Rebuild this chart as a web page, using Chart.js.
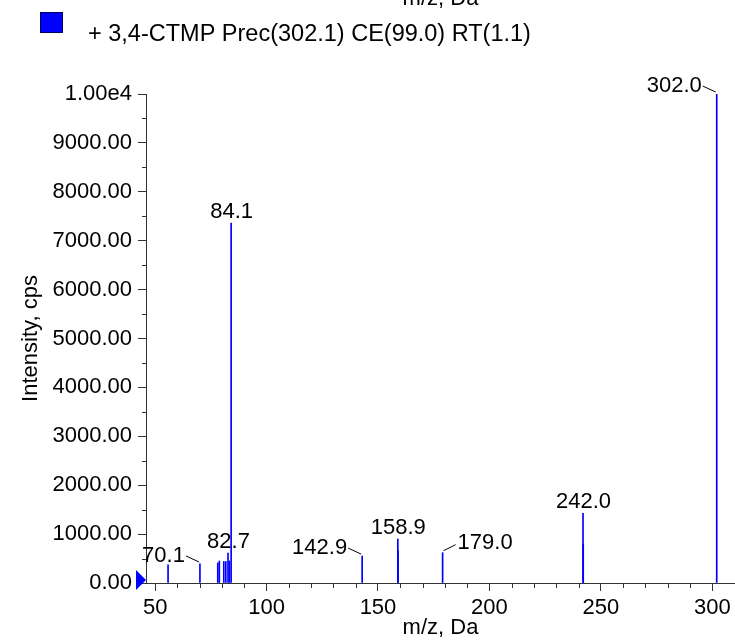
<!DOCTYPE html>
<html>
<head>
<meta charset="utf-8">
<script src="https://cdn.jsdelivr.net/npm/chart.js@4.4.1/dist/chart.umd.min.js"></script>
<style>
  html, body { margin: 0; padding: 0; background: #fff; }
</style>
</head>
<body>
<canvas id="myChart" width="735" height="641"></canvas>
<script>
var seriesName = '+ 3,4-CTMP Prec(302.1) CE(99.0) RT(1.1)';
var xAxisTitle = 'm/z, Da';
var yAxisTitle = 'Intensity, cps';

// peak list
var mzValues    = [55.8, 70.1, 78.1, 78.8, 80.8, 81.7, 82.7, 83.3, 84.1, 142.9, 158.9, 159.0, 179.0, 242.0, 242.1, 302.0];
var intensities = [370,  390,  410,  450,  440,  440,  610,  450,  7360, 550,   900,   660,   620,   1425,  790,   10000];

// peaks that carry a text label
var labelledPeaks = [70.1, 82.7, 84.1, 142.9, 158.9, 179.0, 242.0, 302.0];

var xMin = 45.9, xMax = 310.2;
var yMin = 0, yMax = 10000;

var axisColor = '#333';
var fontFamily = '"Liberation Sans", Arial, sans-serif';

Chart.defaults.font.family = fontFamily;
Chart.defaults.font.size = 22;
Chart.defaults.color = '#000';

// where each label sits relative to its peak (layout only)
var labelSide = { '70.1': 'left', '142.9': 'left', '302.0': 'left', '179.0': 'right' };

var decorations = {
    id: 'decorations',
    afterDraw: function(chart) {
        var ctx = chart.ctx;
        var xs = chart.scales.x;
        var ys = chart.scales.y;
        var area = chart.chartArea;
        ctx.save();

        // minor ticks
        ctx.strokeStyle = axisColor;
        ctx.lineWidth = 1;
        ctx.beginPath();
        for (var v = 50; v <= xs.max; v += 10) {
            if (v % 50 === 0) continue;
            var p = Math.round(xs.getPixelForValue(v)) + 0.5;
            ctx.moveTo(p, area.bottom);
            ctx.lineTo(p, area.bottom + 5);
        }
        for (var w = 500; w < ys.max; w += 1000) {
            var q = Math.round(ys.getPixelForValue(w)) + 0.5;
            ctx.moveTo(area.left - 4, q);
            ctx.lineTo(area.left, q);
        }
        ctx.stroke();

        // blue marker at zero
        ctx.fillStyle = '#0000ff';
        var y0 = ys.getPixelForValue(0) - 3;
        ctx.beginPath();
        ctx.moveTo(area.left - 10, y0 - 10);
        ctx.lineTo(area.left, y0);
        ctx.lineTo(area.left - 10, y0 + 10);
        ctx.closePath();
        ctx.fill();

        // peak labels
        ctx.fillStyle = '#000';
        ctx.strokeStyle = '#000';
        ctx.font = '22px ' + fontFamily;
        ctx.textBaseline = 'alphabetic';
        labelledPeaks.forEach(function(mz) {
            var i = mzValues.indexOf(mz);
            var px = xs.getPixelForValue(mz);
            var py = ys.getPixelForValue(intensities[i]);
            var txt = mz.toFixed(1);
            var side = labelSide[txt] || 'center';
            if (side === 'center') {
                ctx.textAlign = 'center';
                ctx.fillText(txt, px + 0.5, py - 5);
            } else if (side === 'left') {
                ctx.textAlign = 'right';
                ctx.fillText(txt, px - 15, py - 2);
                ctx.beginPath();
                ctx.moveTo(px - 14, py - 8);
                ctx.lineTo(px - 1, py - 2);
                ctx.stroke();
            } else {
                ctx.textAlign = 'left';
                ctx.fillText(txt, px + 15, py - 4);
                ctx.beginPath();
                ctx.moveTo(px + 1, py - 2);
                ctx.lineTo(px + 13, py - 8);
                ctx.stroke();
            }
        });

        // axis titles
        ctx.textAlign = 'center';
        var midX = (area.left + area.right) / 2;
        ctx.fillText(xAxisTitle, midX, 634);
        ctx.fillText(xAxisTitle, midX, 5); // cut-off title of the panel above
        ctx.save();
        ctx.translate(37, (area.top + area.bottom) / 2);
        ctx.rotate(-Math.PI / 2);
        ctx.fillText(yAxisTitle, 0, 0);
        ctx.restore();

        // legend
        ctx.fillStyle = '#0000ff';
        ctx.fillRect(40, 12, 23, 21);
        ctx.strokeStyle = '#000060';
        ctx.strokeRect(40.5, 12.5, 22, 20);
        ctx.fillStyle = '#000';
        ctx.textAlign = 'left';
        ctx.font = '23.5px ' + fontFamily;
        ctx.fillText(seriesName, 88, 41);

        ctx.restore();
    }
};

var ctx = document.getElementById('myChart');

var myChart = new Chart(ctx, {
    type: 'bar',
    data: {
        datasets: [{
            label: seriesName,
            data: mzValues.map(function(mz, i) { return { x: mz, y: intensities[i] }; }),
            backgroundColor: '#0000ff',
            borderWidth: 0,
            barThickness: 1
        }]
    },
    options: {
        responsive: false,
        animation: false,
        layout: {
            padding: { top: 94, left: 0, right: 0, bottom: 0 }
        },
        scales: {
            x: {
                type: 'linear',
                offset: false,
                min: xMin,
                max: xMax,
                afterBuildTicks: function(axis) {
                    var t = [];
                    for (var v = 50; v <= xMax; v += 50) t.push({ value: v });
                    axis.ticks = t;
                },
                afterFit: function(scale) { scale.height = 58; },
                ticks: {
                    stepSize: 50,
                    padding: 4,
                    maxRotation: 0,
                    autoSkip: false
                },
                grid: {
                    offset: false,
                    drawOnChartArea: false,
                    drawTicks: true,
                    tickLength: 8,
                    tickColor: axisColor
                },
                border: { display: true, color: axisColor, width: 1 }
            },
            y: {
                min: yMin,
                max: yMax,
                afterFit: function(scale) { scale.width = 146; },
                ticks: {
                    stepSize: 1000,
                    padding: 6,
                    callback: function(value) {
                        return value >= 10000 ? '1.00e4' : value.toFixed(2);
                    }
                },
                grid: {
                    drawOnChartArea: false,
                    drawTicks: true,
                    tickLength: 8,
                    tickColor: axisColor
                },
                border: { display: true, color: axisColor, width: 1 }
            }
        },
        plugins: {
            legend: { display: false },
            tooltip: { enabled: false }
        }
    },
    plugins: [decorations]
});
</script>
</body>
</html>
